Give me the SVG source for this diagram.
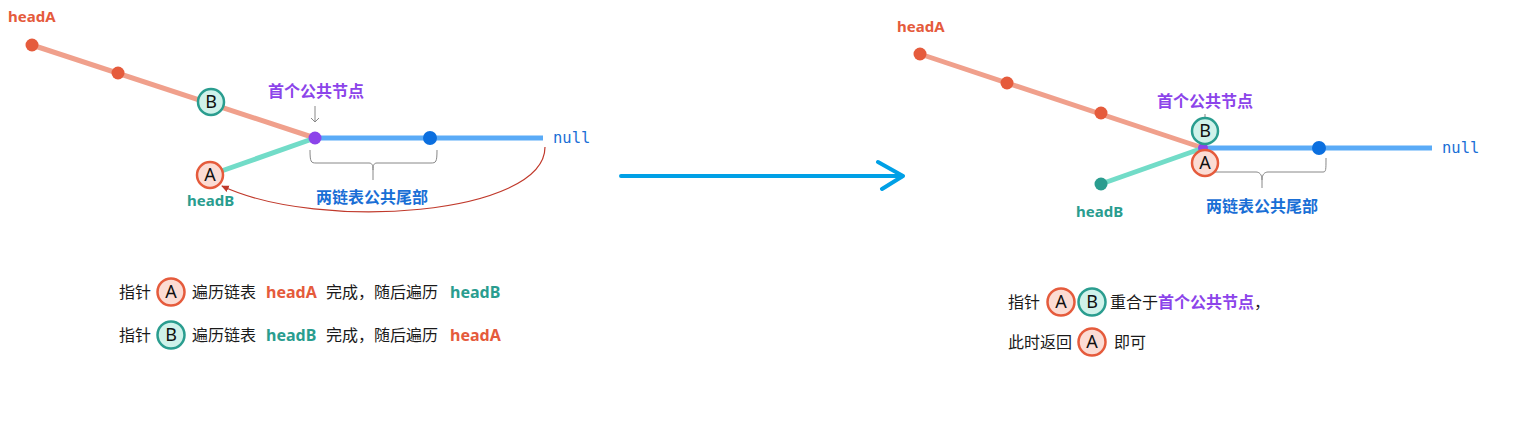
<svg xmlns="http://www.w3.org/2000/svg" width="1514" height="430" viewBox="0 0 1514 430">
<defs>
<style>
.t{font-family:"Noto Sans CJK SC","Noto Sans",sans-serif;font-size:16px;fill:#1a1a1a}
.b{font-weight:bold}
.ha{font-family:"Noto Sans","Noto Sans CJK SC",sans-serif;font-weight:bold;font-size:15px;fill:#e55b3c}
.hb{font-family:"Noto Sans","Noto Sans CJK SC",sans-serif;font-weight:bold;font-size:15px;fill:#2a9d8f}
.big{font-size:16px}
.pur{fill:#8c44ea;font-weight:bold}
.blu{fill:#1a6fd6;font-weight:bold}
.nul{font-family:"DejaVu Sans Mono",monospace;font-size:15.5px;fill:#1a6fd6}
.lo{stroke:#f0a08c;stroke-width:5;fill:none}
.lt{stroke:#72dcc8;stroke-width:5;fill:none}
.lb{stroke:#5aabf7;stroke-width:5;fill:none}
.do{fill:#e55b3c}
.db{fill:#0b6fdf}
.ca{fill:#fbdcd4;stroke:#e55b3c;stroke-width:2.5}
.cb{fill:#cff2ea;stroke:#2a9d8f;stroke-width:2.5}
.cl{font-family:"Noto Sans",sans-serif;font-size:18px;fill:#111;text-anchor:middle}
.br{stroke:#888;stroke-width:1;fill:none}
</style>
<marker id="ar" viewBox="0 0 10 10" refX="8" refY="5" markerWidth="7" markerHeight="7" orient="auto"><path d="M0,1 L9,5 L0,9 z" fill="#c0392b"/></marker>
</defs>
<g id="connectors">
<line class="lo" x1="32" y1="45" x2="315" y2="138"/>
<line class="lt" x1="210" y1="175" x2="315" y2="138"/>
<line class="lb" x1="315" y1="138" x2="543" y2="138"/>
<path d="M545,147 C545,215 320,232 222,186" stroke="#c0392b" stroke-width="1.2" fill="none" marker-end="url(#ar)"/>
<path d="M315,106 V122 M311,118 L315,122 L319,118" class="br"/>
<path d="M310,150 C310,162 311,163 316,163 H369 C372,163 373,165 373,170 V180 M373,170 C373,165 374,163 377,163 H431 C436,163 437,162 437,150" class="br"/>
<line class="lo" x1="920" y1="54" x2="1203" y2="148"/>
<line class="lt" x1="1101" y1="184" x2="1203" y2="148"/>
<line class="lb" x1="1203" y1="148" x2="1432" y2="148"/>
<path d="M1205,114 V118" class="br"/>
<path d="M1215,172 H1256 C1259,172 1262,174 1262,180 V188 M1262,180 C1262,174 1265,172 1268,172 H1323 C1326,172 1326,170 1326,158" class="br"/>
<path d="M621,176 H903 M878,162 L903,176 L882,189" stroke="#00a0e6" stroke-width="4" stroke-linecap="round" stroke-linejoin="round" fill="none"/>
</g>
<g id="left-headA"><text class="ha" x="8" y="22">headA</text><circle class="do" cx="32" cy="45" r="6.5"/></g>
<g id="left-n2"><circle class="do" cx="118" cy="73" r="6.5"/></g>
<g id="left-B"><circle class="cb" cx="211" cy="102" r="13"/><text class="cl" x="211" y="108">B</text></g>
<g id="left-common"><circle fill="#8c44ea" cx="315" cy="138" r="6.5"/><text class="t pur" x="268" y="97">首个公共节点</text></g>
<g id="left-n5"><circle class="db" cx="430" cy="138" r="7"/></g>
<g id="left-null"><text class="nul" x="553" y="143">null</text></g>
<g id="left-A"><circle class="ca" cx="210" cy="175" r="13"/><text class="cl" x="210" y="181">A</text><text class="hb" x="187" y="206">headB</text></g>
<g id="left-tail"><text class="t blu" x="316" y="203">两链表公共尾部</text></g>
<g id="left-legend">
<text class="t" x="119" y="298">指针</text>
<circle class="ca" cx="171" cy="292" r="13.5"/><text class="cl" x="171" y="298">A</text>
<text class="t" x="192" y="298">遍历链表</text>
<text class="ha big" x="266" y="298">headA</text>
<text class="t" x="326" y="298">完成，随后遍历</text>
<text class="hb big" x="450" y="298">headB</text>
<text class="t" x="119" y="341">指针</text>
<circle class="cb" cx="171" cy="335" r="13.5"/><text class="cl" x="171" y="341">B</text>
<text class="t" x="192" y="341">遍历链表</text>
<text class="hb big" x="266" y="341">headB</text>
<text class="t" x="326" y="341">完成，随后遍历</text>
<text class="ha big" x="450" y="341">headA</text>
</g>
<g id="right-headA"><text class="ha" x="897" y="32">headA</text><circle class="do" cx="920" cy="54" r="6.5"/></g>
<g id="right-n2"><circle class="do" cx="1007" cy="83" r="6.5"/></g>
<g id="right-n3"><circle class="do" cx="1101" cy="113" r="6.5"/></g>
<g id="right-common"><circle fill="#8c44ea" cx="1203" cy="148" r="5"/><text class="t pur" x="1157" y="107">首个公共节点</text></g>
<g id="right-B"><circle class="cb" cx="1205" cy="131" r="13"/><text class="cl" x="1205" y="137">B</text></g>
<g id="right-A"><circle class="ca" cx="1205" cy="163" r="13"/><text class="cl" x="1205" y="169">A</text></g>
<g id="right-n5"><circle class="db" cx="1319" cy="148" r="7"/></g>
<g id="right-null"><text class="nul" x="1442" y="153">null</text></g>
<g id="right-headB"><circle fill="#2a9d8f" cx="1101" cy="184" r="6.5"/><text class="hb" x="1076" y="217">headB</text></g>
<g id="right-tail"><text class="t blu" x="1206" y="212">两链表公共尾部</text></g>
<g id="right-legend">
<text class="t" x="1008" y="308">指针</text>
<circle class="ca" cx="1061" cy="302" r="13.5"/><text class="cl" x="1061" y="308">A</text>
<circle class="cb" cx="1092" cy="302" r="13.5"/><text class="cl" x="1092" y="308">B</text>
<text class="t" x="1110" y="308">重合于<tspan class="pur">首个公共节点</tspan>，</text>
<text class="t" x="1008" y="348">此时返回</text>
<circle class="ca" cx="1092" cy="342" r="13.5"/><text class="cl" x="1092" y="348">A</text>
<text class="t" x="1114" y="348">即可</text>
</g>
</svg>
